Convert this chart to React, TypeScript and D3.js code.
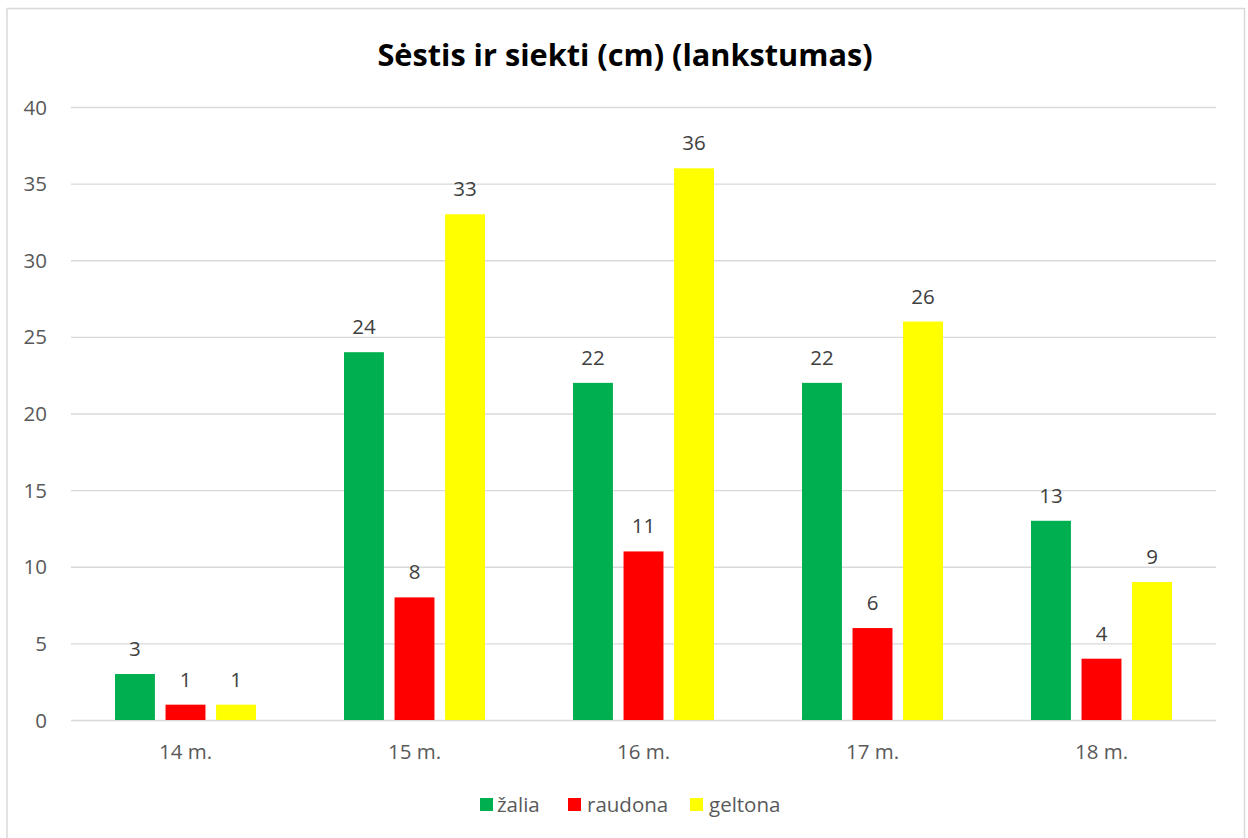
import * as d3 from "d3";
import React from "react";

const categories = ["14 m.", "15 m.", "16 m.", "17 m.", "18 m."];
const seriesNames = ["žalia", "raudona", "geltona"];
const seriesColors = ["#00b050", "#ff0000", "#ffff00"];
const zalia = [3, 24, 22, 22, 13];
const raudona = [1, 8, 11, 6, 4];
const geltona = [1, 33, 36, 26, 9];
const yTicks = [0, 5, 10, 15, 20, 25, 30, 35, 40];

const seriesValues = [zalia, raudona, geltona];

const W = 1248;
const H = 838;
const plot = { left: 71, right: 1216, top: 107, bottom: 720 };
const font = "'Open Sans', Lato, sans-serif";
const fs = 20.5;

export default function App() {
  const x = d3
    .scaleBand<string>()
    .domain(categories)
    .range([plot.left, plot.right])
    .paddingInner(0)
    .paddingOuter(0);

  const inner = d3
    .scaleBand<number>()
    .domain([0, 1, 2])
    .range([44, x.bandwidth() - 44])
    .paddingInner(0.21);

  const y = d3.scaleLinear().domain([0, 40]).range([plot.bottom, plot.top]);

  const legendItems = [
    { x: 480, textX: 497 },
    { x: 568, textX: 587 },
    { x: 690, textX: 709 },
  ];

  return (
    <div style={{ position: "absolute", left: 0, top: 0 }}>
      <svg width={W} height={H} style={{ display: "block", background: "#fff" }}>
        <rect x={7} y={8.5} width={1237.5} height={H} fill="#fff" stroke="#d9d9d9" strokeWidth={1.5} />
        <text
          x={625}
          y={66}
          textAnchor="middle"
          fontFamily={font}
          fontWeight="bold"
          fontSize={30.7}
          fill="#000"
        >
          Sėstis ir siekti (cm) (lankstumas)
        </text>

        {yTicks.map((t) => (
          <g key={t}>
            <line
              x1={plot.left}
              x2={plot.right}
              y1={y(t) + 0.5}
              y2={y(t) + 0.5}
              stroke="#d9d9d9"
              strokeWidth={1.3}
            />
            <text
              x={47}
              y={y(t) + 7.5}
              textAnchor="end"
              fontFamily={font}
              fontSize={fs}
              fill="#595959"
            >
              {t}
            </text>
          </g>
        ))}

        {categories.map((c, ci) => (
          <g key={c}>
            {seriesValues.map((vals, si) => {
              const bx = (x(c) ?? 0) + (inner(si) ?? 0);
              const v = vals[ci];
              return (
                <g key={si}>
                  <rect
                    x={bx}
                    y={y(v)}
                    width={inner.bandwidth()}
                    height={y(0) - y(v)}
                    fill={seriesColors[si]}
                  />
                  <text
                    x={bx + inner.bandwidth() / 2}
                    y={y(v) - 18}
                    textAnchor="middle"
                    fontFamily={font}
                    fontSize={fs}
                    fill="#404040"
                  >
                    {v}
                  </text>
                </g>
              );
            })}
            <text
              x={(x(c) ?? 0) + x.bandwidth() / 2}
              y={759}
              textAnchor="middle"
              fontFamily={font}
              fontSize={fs}
              fill="#595959"
            >
              {c}
            </text>
          </g>
        ))}

        {seriesNames.map((n, i) => (
          <g key={n}>
            <rect x={legendItems[i].x} y={798} width={13} height={13} fill={seriesColors[i]} />
            <text
              x={legendItems[i].textX}
              y={812}
              fontFamily={font}
              fontSize={fs}
              fill="#595959"
            >
              {n}
            </text>
          </g>
        ))}
      </svg>
    </div>
  );
}
